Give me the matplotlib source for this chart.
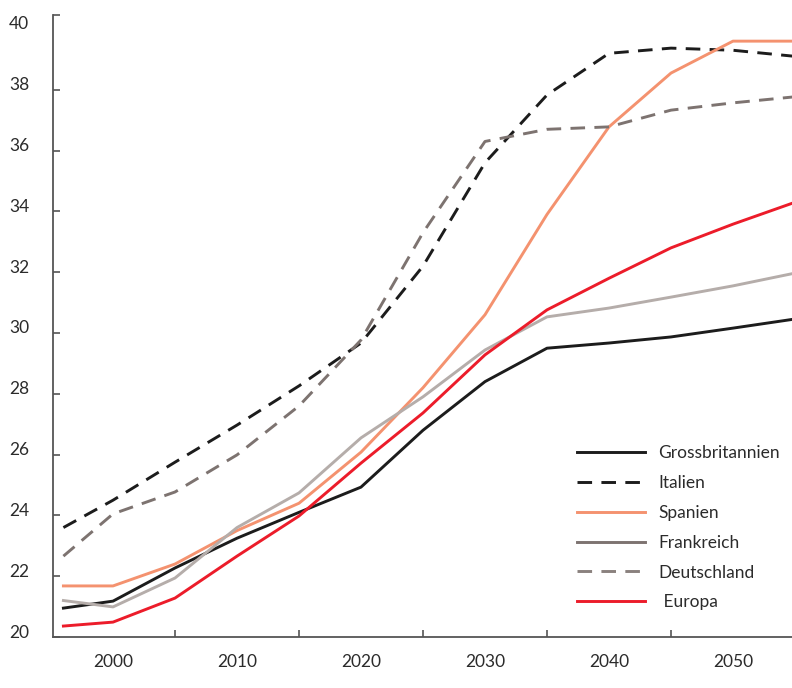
import numpy as np
import matplotlib
matplotlib.use("Agg")
import matplotlib.pyplot as plt
import matplotlib.transforms as mtransforms
from matplotlib.lines import Line2D

plt.rcParams['font.family'] = ['Lato', 'DejaVu Sans']

years = [1996, 2000, 2005, 2010, 2015, 2020, 2025, 2030, 2035, 2040, 2045, 2050, 2055]

grossbritannien = [20.95, 21.18, 22.27, 23.25, 24.1, 24.93, 26.8, 28.4, 29.5, 29.67, 29.87, 30.16, 30.46]
italien = [23.6, 24.5, 25.75, 26.97, 28.26, 29.67, 32.2, 35.6, 37.83, 39.2, 39.37, 39.3, 39.1]
spanien = [21.68, 21.68, 22.4, 23.5, 24.4, 26.08, 28.2, 30.6, 33.9, 36.78, 38.55, 39.6, 39.6]
frankreich = [21.2, 20.99, 21.94, 23.6, 24.74, 26.55, 27.9, 29.44, 30.53, 30.82, 31.18, 31.55, 31.97]
deutschland = [22.66, 24.05, 24.77, 25.99, 27.6, 29.77, 33.3, 36.3, 36.7, 36.78, 37.33, 37.57, 37.77]
europa = [20.36, 20.49, 21.28, 22.66, 23.98, 25.72, 27.37, 29.28, 30.76, 31.8, 32.8, 33.58, 34.3]

labels = ['Grossbritannien', 'Italien', 'Spanien', 'Frankreich', 'Deutschland', ' Europa']
label_years = [2000, 2010, 2020, 2030, 2040, 2050]

fig = plt.figure(figsize=(7.92, 6.88), dpi=100)
ax = fig.add_axes([53/792, 1-637/688, (792-53)/792, (637-15)/688])

dash = (5, 3.2)
lw = 2.1
ax.plot(years, grossbritannien, color='#1c1c1c', lw=lw)
ax.plot(years, italien, color='#1c1c1c', lw=lw, dashes=dash)
ax.plot(years, spanien, color='#f4926f', lw=lw)
ax.plot(years, frankreich, color='#b5adaa', lw=lw)
ax.plot(years, deutschland, color='#7d7370', lw=lw, dashes=dash)
ax.plot(years, europa, color='#ec1c2a', lw=lw)

ax.set_xlim(1995.16, 2054.76)
ax.set_ylim(20, 40.46)

for s in ['top', 'right']:
    ax.spines[s].set_visible(False)
for s in ['left', 'bottom']:
    ax.spines[s].set_color('#555555')
    ax.spines[s].set_linewidth(1.3)

# x: tick marks between labels, labels on minor ticks
ax.set_xticks([2005, 2015, 2025, 2035, 2045])
ax.set_xticklabels([])
ax.set_xticks(label_years, minor=True)
ax.set_xticklabels([str(y) for y in label_years], minor=True)
ax.tick_params(axis='x', which='major', direction='in', length=5, width=1.2, color='#555555')
ax.tick_params(axis='x', which='minor', length=0, pad=12, labelsize=12.5, labelcolor='#2b2b2b')

yt = list(range(20, 41, 2))
ax.set_yticks(yt)
ax.set_yticklabels([str(v) for v in yt])
ax.tick_params(axis='y', which='major', direction='in', length=5, width=1.2, color='#555555',
               pad=17, labelsize=12.5, labelcolor='#2b2b2b')
ax.set_yticks([40.46], minor=True)
ax.tick_params(axis='y', which='minor', direction='in', length=5, width=1.2, color='#555555')
ax.yaxis.get_major_ticks()[-1].tick1line.set_visible(False)

off = mtransforms.ScaledTranslation(0, 6/100, fig.dpi_scale_trans)
for lab in ax.get_yticklabels():
    lab.set_transform(lab.get_transform() + off)

handles = [
    Line2D([], [], color='#1c1c1c', lw=lw),
    Line2D([], [], color='#1c1c1c', lw=lw, dashes=dash),
    Line2D([], [], color='#f4926f', lw=lw),
    Line2D([], [], color='#7d7370', lw=lw),
    Line2D([], [], color='#8a817e', lw=lw, dashes=dash),
    Line2D([], [], color='#ec1c2a', lw=lw),
]
leg = ax.legend(handles, labels, loc='upper left', bbox_to_anchor=(577/792, 1-445/688),
                bbox_transform=fig.transFigure, frameon=False, fontsize=12.5,
                handlelength=3.9, handletextpad=0.8, labelspacing=0.8, borderpad=0,
                borderaxespad=0)
for t in leg.get_texts():
    t.set_color('#2b2b2b')

fig.savefig('out.png', dpi=100)
